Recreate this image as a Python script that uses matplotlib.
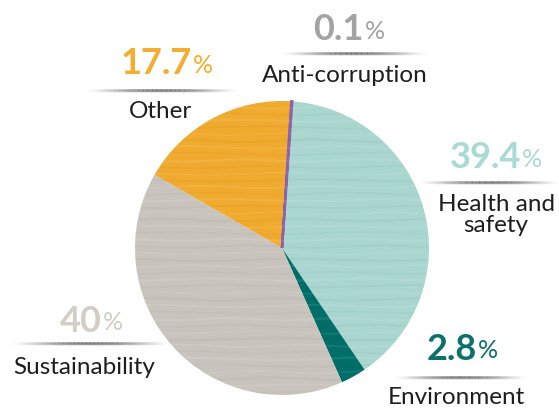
import numpy as np
import matplotlib.pyplot as plt
from matplotlib.collections import LineCollection

# shares by topic, clockwise from the top
topics = ['Health and\nsafety', 'Environment', 'Sustainability', 'Other', 'Anti-corruption']
shares = [39.4, 2.8, 40, 17.7, 0.1]
pct_text = ['39.4', '2.8', '40', '17.7', '0.1']
slice_colors = ['#a9d6cf', '#006e68', '#c9c3bd', '#f0aa2e', '#8e62a8']
pct_colors = ['#a9dad3', '#0d716b', '#d4cdc5', '#f5ad31', '#a3a3a3']

# label block placement (pixels): number centre x, number y, name y, rule y, rule x0, x1
lab_cx = [496, 462, 91, 167, 349]
lab_num_y = [158, 349, 321, 64, 30]
lab_name_x = [496, 456, 84, 161, 345]
lab_name_y = [215, 397, 367, 111, 75]
rule_y = [182, 377, 343, 90, 53]
rule_x = [(418, 559), (393, 527), (10, 170), (85, 237), (280, 427)]

W, H = 559, 408
fig = plt.figure(figsize=(W / 100, H / 100), dpi=100)

# pie axes: centre (282, 248), radius 147 px
cx, cy, r = 282, 248, 147
pax = fig.add_axes([(cx - r) / W, (H - cy - r) / H, 2 * r / W, 2 * r / H])
wedges, _ = pax.pie(shares, colors=slice_colors, startangle=86, counterclock=False,
                    radius=1, wedgeprops=dict(linewidth=0))
wedges[-1].set_edgecolor(slice_colors[-1])
wedges[-1].set_linewidth(1.8)
pax.set_xlim(-1, 1)
pax.set_ylim(-1, 1)
pax.axis('off')

# soft horizontal streaks over the pie
circle = plt.Circle((0, 0), 1, transform=pax.transData)
xs = np.linspace(-1, 1, 200)
for k, y0 in enumerate(np.arange(-0.98, 1.0, 0.045)):
    ys = y0 + 0.008 * np.sin(xs * (5 + k % 4) + k)
    col = 'white' if k % 2 else '#000000'
    a = 0.09 if k % 2 else 0.025
    ln, = pax.plot(xs, ys, color=col, lw=1.0 + (k % 3) * 0.4, alpha=a, zorder=3)
    ln.set_clip_path(circle)

# overlay axes in pixel coordinates for the labels
ax = fig.add_axes([0, 0, 1, 1])
ax.set_xlim(0, W)
ax.set_ylim(H, 0)
ax.axis('off')

num_font = dict(family=['Lato', 'DejaVu Sans'], weight='bold', fontsize=26)
pct_font = dict(family=['Lato', 'DejaVu Sans'], fontsize=18)
name_font = dict(family=['Lato', 'DejaVu Sans'], fontsize=17.5, color='#1e1e1e')

renderer = fig.canvas.get_renderer()
for i in range(len(topics)):
    # number and a smaller % sign, centred together
    t1 = ax.text(0, lab_num_y[i], pct_text[i], color=pct_colors[i], ha='left', va='center', **num_font)
    t2 = ax.text(0, lab_num_y[i] + 1.5, '%', color=pct_colors[i], ha='left', va='center', **pct_font)
    w1 = t1.get_window_extent(renderer).width
    w2 = t2.get_window_extent(renderer).width
    x0 = lab_cx[i] - (w1 + w2 + 1) / 2
    t1.set_x(x0)
    t2.set_x(x0 + w1 + 1)

    ax.text(lab_name_x[i], lab_name_y[i], topics[i], ha='center', va='center',
            linespacing=1.0, **name_font)

    # shaded rule, darkest in the middle
    xa, xb = rule_x[i]
    px = np.linspace(xa, xb, 120)
    segs = [[(px[j], rule_y[i]), (px[j + 1], rule_y[i])] for j in range(len(px) - 1)]
    u = (px[:-1] - xa) / (xb - xa)
    alpha = np.clip(np.sin(np.pi * u) ** 1.5, 0, 1) * 0.8
    cols = [(0.3, 0.28, 0.28, a) for a in alpha]
    ax.add_collection(LineCollection(segs, colors=cols, linewidths=1.8))
    segs2 = [[(px[j], rule_y[i] + 2), (px[j + 1], rule_y[i] + 2)] for j in range(len(px) - 1)]
    cols2 = [(0.5, 0.5, 0.5, a * 0.25) for a in alpha]
    ax.add_collection(LineCollection(segs2, colors=cols2, linewidths=1.5))

fig.savefig('out.png', dpi=100)
